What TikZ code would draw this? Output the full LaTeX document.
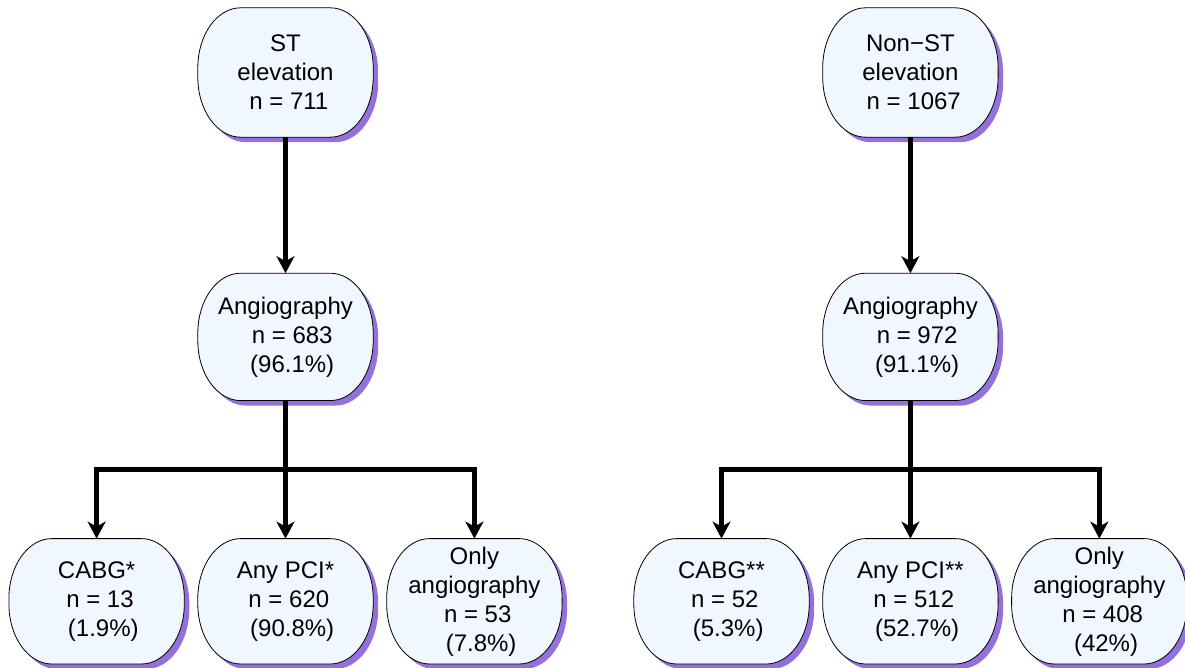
\documentclass[tikz,border=0pt]{standalone}
\usepackage{fontspec}
\setmainfont{Liberation Sans}
\usetikzlibrary{positioning}
\usetikzlibrary{backgrounds}
\usetikzlibrary{calc}
\usetikzlibrary{arrows.meta}
\definecolor{boxfill}{RGB}{240,247,255}
\definecolor{boxshadow}{RGB}{147,112,219}
\newcommand{\lead}{\hspace*{0.28em}}
\tikzstyle{stage} = [rectangle, minimum width=175pt, minimum height=127pt, inner sep=0pt, align=center, font=\fontsize{24}{29}\selectfont]
\tikzstyle{flow} = [line width=5pt, -{Stealth[length=17pt, width=18pt, inset=5pt]}]
\tikzset{stage outline/.style={insert path={([xshift=43pt]#1.north west) -- ([xshift=-43pt]#1.north east)
  arc[start angle=90, end angle=0, x radius=43pt, y radius=60pt] -- ([yshift=60pt]#1.south east)
  arc[start angle=0, end angle=-90, x radius=43pt, y radius=60pt] -- ([xshift=43pt]#1.south west)
  arc[start angle=270, end angle=180, x radius=43pt, y radius=60pt] -- ([yshift=-60pt]#1.north west)
  arc[start angle=180, end angle=90, x radius=43pt, y radius=60pt] -- cycle}}}

\begin{document}
\begin{tikzpicture}[x=1pt, y=1pt]
\useasboundingbox (0,0) rectangle (1185,667);

% Define nodes
\node[stage, minimum height=129pt] at (285.5,594.5)  (st)     {ST\\elevation\\\lead n = 711};
\node[stage, below = 136pt of st]                    (angst)  {Angiography\\\lead\lead n = 683\\\lead\lead (96.1\%)};
\node[stage, below = 138pt of angst, minimum height=125pt]  (pcist)  {Any PCI*\\\lead n = 620\\\lead\lead (90.8\%)};
\node[stage, left  = 13.5pt of pcist, minimum height=125pt] (cabgst) {CABG*\\\lead n = 13\\\lead\lead (1.9\%)};
\node[stage, right = 13.5pt of pcist, minimum height=125pt] (onlyst) {Only\\angiography\\\lead n = 53\\\lead\lead (7.8\%)};

\node[stage, right = 449.5pt of st, minimum height=129pt]   (nst)     {Non−ST\\elevation\\\lead n = 1067};
\node[stage, below = 136pt of nst]                          (angnst)  {Angiography\\\lead\lead n = 972\\\lead\lead (91.1\%)};
\node[stage, below = 138pt of angnst, minimum height=125pt] (pcinst)  {Any PCI**\\\lead n = 512\\\lead\lead (52.7\%)};
\node[stage, left  = 13.5pt of pcinst, minimum height=125pt] (cabgnst) {CABG**\\\lead n = 52\\\lead\lead (5.3\%)};
\node[stage, right = 13.5pt of pcinst, minimum height=125pt] (onlynst) {Only\\angiography\\\lead n = 408\\\lead\lead (42\%)};

% Boxes and shadows
\begin{scope}[on background layer]
\foreach \n in {st,angst,cabgst,pcist,onlyst,nst,angnst,cabgnst,pcinst,onlynst}{
  \fill[boxshadow, transform canvas={shift={(5pt,-5pt)}}] [stage outline=\n];
  \filldraw[fill=boxfill, draw=black, line width=0.8pt] [stage outline=\n];
}
\end{scope}

\coordinate (barst)  at ($(angst.south)!0.5!(pcist.north)$);
\coordinate (barnst) at ($(angnst.south)!0.5!(pcinst.north)$);

% Edges
\draw[flow] (st) -- (angst);
\draw[flow] (angst) -- (pcist);
\draw[flow] (barst) -| (cabgst);
\draw[flow] (barst) -| (onlyst);

\draw[flow] (nst) -- (angnst);
\draw[flow] (angnst) -- (pcinst);
\draw[flow] (barnst) -| (cabgnst);
\draw[flow] (barnst) -| (onlynst);
\end{tikzpicture}
\end{document}
